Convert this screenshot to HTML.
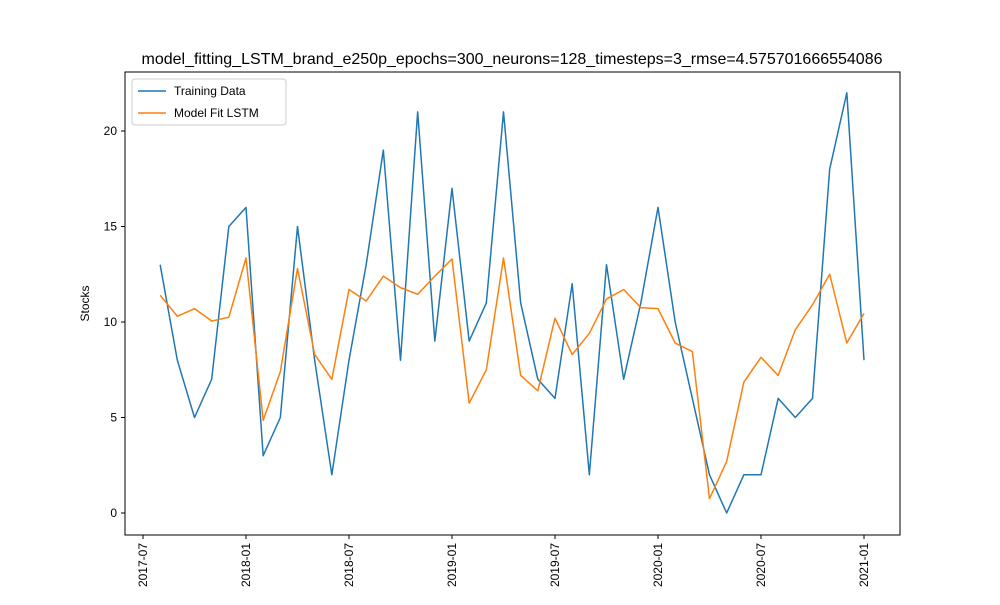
<!DOCTYPE html>
<html><head><meta charset="utf-8"><style>
body{margin:0;background:#fff;font-family:"Liberation Sans","DejaVu Sans",sans-serif}
</style></head><body>
<svg id="chart" width="1000" height="600" xmlns="http://www.w3.org/2000/svg"></svg>
<script>
const months = ["2017-08","2017-09","2017-10","2017-11","2017-12","2018-01","2018-02","2018-03","2018-04","2018-05","2018-06","2018-07","2018-08","2018-09","2018-10","2018-11","2018-12","2019-01","2019-02","2019-03","2019-04","2019-05","2019-06","2019-07","2019-08","2019-09","2019-10","2019-11","2019-12","2020-01","2020-02","2020-03","2020-04","2020-05","2020-06","2020-07","2020-08","2020-09","2020-10","2020-11","2020-12","2021-01"];
const training = [13,8,5,7,15,16,3,5,15,8,2,8,13,19,8,21,9,17,9,11,21,11,7,6,12,2,13,7,11,16,10,6,2,0,2,2,6,5,6,18,22,8];
const fit = [11.4,10.3,10.7,10.05,10.25,13.35,4.85,7.4,12.8,8.3,7.0,11.7,11.1,12.4,11.8,11.45,12.4,13.3,5.75,7.5,13.35,7.2,6.4,10.2,8.3,9.4,11.2,11.7,10.75,10.7,8.9,8.45,0.75,2.7,6.85,8.15,7.2,9.6,10.9,12.5,8.9,10.45];
const xTicks = ["2017-07","2018-01","2018-07","2019-01","2019-07","2020-01","2020-07","2021-01"];
const yTicks = [0,5,10,15,20];

const svg = document.getElementById('chart');
const NS = "http://www.w3.org/2000/svg";
const L=125,R=900,T=72,B=535;
function mIdx(s){const p=s.split('-');return (+p[0]-2017)*12+(+p[1]-7);}
const x0=143, pxPerMonth=(864-143)/42;
function xs(s){return x0+mIdx(s)*pxPerMonth;}
function ys(v){return 513-v*19.1;}
function mk(tag,attrs,parent){const e=document.createElementNS(NS,tag);for(const k in attrs)e.setAttribute(k,attrs[k]);(parent||svg).appendChild(e);return e;}

const title=mk('text',{x:512,y:64,'text-anchor':'middle','font-size':16,fill:'#000'});


title.textContent="model_fitting_LSTM_brand_e250p_epochs=300_neurons=128_timesteps=3_rmse=4.575701666554086";

const frame=mk('rect',{x:L,y:T,width:R-L,height:B-T,fill:'none',stroke:'#000','stroke-width':1});



yTicks.forEach(v=>{
  const y=ys(v);
  mk('line',{x1:L-4,x2:L,y1:y,y2:y,stroke:'#000'});
  const t=mk('text',{x:L-8,y:y+4,'text-anchor':'end','font-size':12});
  
  
  t.textContent=v;
});
xTicks.forEach(s=>{
  const x=xs(s);
  mk('line',{x1:x,x2:x,y1:B,y2:B+4,stroke:'#000'});
  const t=mk('text',{x:0,y:0,'text-anchor':'end','font-size':12,transform:`translate(${x+4},${B+8}) rotate(-90)`});
  
  
  t.textContent=s;
});
const yl=mk('text',{x:0,y:0,'text-anchor':'middle','font-size':12,transform:`translate(89,${(T+B)/2}) rotate(-90)`});


yl.textContent="Stocks";

function series(vals,color,name){
  const p=mk('polyline',{points:vals.map((v,i)=>xs(months[i])+','+ys(v)).join(' '),fill:'none',stroke:color,'stroke-width':1.5,'stroke-linejoin':'round'});
  
  
}
series(training,'#1f77b4','training-data-line');
series(fit,'#ff7f0e','model-fit-line');

const lg=mk('g',{});


mk('rect',{x:132,y:79,width:154,height:46,rx:3,fill:'#fff',stroke:'#ccc'},lg);
[['Training Data','#1f77b4',91],['Model Fit LSTM','#ff7f0e',113]].forEach(([n,c,y])=>{
  mk('line',{x1:138,x2:166,y1:y,y2:y,stroke:c,'stroke-width':1.5},lg);
  const t=mk('text',{x:174,y:y+4,'font-size':12},lg);
  
  
  t.textContent=n;
});
</script>
</body></html>
